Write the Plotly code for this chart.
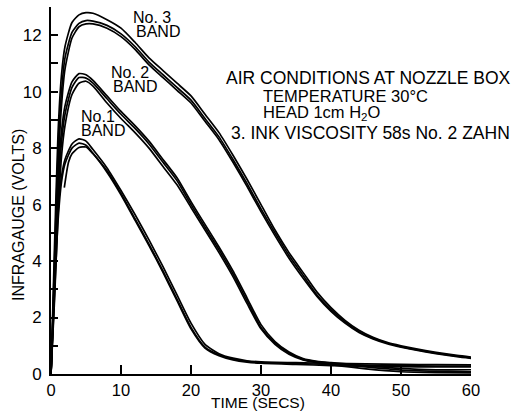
import plotly.graph_objects as go

# Infragauge drying traces, three runs per band
t_band1 = [0, 0.5, 1, 1.5, 2, 3, 4, 5, 6, 8, 10, 12, 14, 16, 18, 20, 22, 24, 26, 28, 30, 35, 40, 45, 50, 55, 60]
band1_a = [0, 3.2, 5.8, 7.0, 7.6, 8.15, 8.33, 8.25, 7.95, 7.3, 6.5, 5.65, 4.75, 3.8, 2.8, 1.8, 1.05, 0.72, 0.56, 0.47, 0.43, 0.4, 0.38, 0.36, 0.34, 0.33, 0.32]
band1_b = [0, 2.8, 5.4, 6.8, 7.45, 8.0, 8.18, 8.1, 7.82, 7.2, 6.4, 5.5, 4.6, 3.65, 2.65, 1.65, 0.95, 0.68, 0.53, 0.45, 0.41, 0.37, 0.34, 0.31, 0.29, 0.28, 0.28]
t_band1_c = [1.9, 2.5, 3, 4, 5, 6, 8, 10, 12, 14, 16, 18, 20, 22, 24, 26, 28, 30, 35, 40, 45, 50, 55, 60]
band1_c = [6.6, 7.5, 7.8, 8.02, 8.04, 7.8, 7.15, 6.35, 5.45, 4.55, 3.6, 2.6, 1.6, 0.92, 0.65, 0.5, 0.42, 0.38, 0.34, 0.3, 0.27, 0.26, 0.25, 0.25]

t_band2 = [0, 0.5, 1, 1.5, 2, 3, 4, 5, 6, 8, 10, 12, 14, 16, 18, 20, 22, 24, 26, 28, 30, 32, 34, 36, 38, 40, 45, 50, 55, 60]
band2_a = [0, 3.5, 6.8, 8.6, 9.5, 10.35, 10.64, 10.6, 10.4, 9.85, 9.3, 8.8, 8.25, 7.6, 6.95, 6.1, 5.3, 4.5, 3.65, 2.7, 1.75, 1.15, 0.78, 0.55, 0.45, 0.4, 0.3, 0.2, 0.15, 0.15]
band2_b = [0, 3.0, 6.2, 8.2, 9.2, 10.15, 10.5, 10.48, 10.3, 9.75, 9.2, 8.7, 8.15, 7.5, 6.85, 6.0, 5.2, 4.4, 3.55, 2.6, 1.65, 1.1, 0.74, 0.52, 0.43, 0.38, 0.25, 0.14, 0.1, 0.08]
band2_c = [0, 2.6, 5.6, 7.7, 8.8, 9.9, 10.3, 10.37, 10.2, 9.6, 9.05, 8.55, 8.0, 7.35, 6.7, 5.9, 5.1, 4.3, 3.45, 2.5, 1.6, 1.05, 0.7, 0.5, 0.4, 0.33, 0.18, 0.08, 0.05, 0.04]

t_band3 = [0, 0.5, 1, 1.5, 2, 3, 4, 5, 6, 8, 10, 12, 14, 16, 18, 20, 22, 24, 26, 28, 30, 32, 34, 36, 38, 40, 42, 44, 46, 48, 50, 52, 55, 58, 60]
band3_a = [0, 4.5, 8.5, 10.6, 11.6, 12.45, 12.72, 12.8, 12.78, 12.55, 12.25, 11.75, 11.2, 10.75, 10.3, 9.85, 9.2, 8.55, 7.75, 6.9, 6.0, 5.1, 4.3, 3.6, 2.9, 2.35, 1.9, 1.55, 1.3, 1.12, 1.0, 0.9, 0.77, 0.66, 0.6]
band3_b = [0, 4.0, 7.8, 10.0, 11.2, 12.1, 12.42, 12.52, 12.5, 12.35, 12.05, 11.6, 11.05, 10.6, 10.15, 9.7, 9.05, 8.4, 7.6, 6.75, 5.85, 5.0, 4.2, 3.5, 2.8, 2.28, 1.85, 1.5, 1.27, 1.1, 0.97, 0.87, 0.74, 0.63, 0.57]
band3_c = [0, 3.5, 7.2, 9.5, 10.8, 11.9, 12.3, 12.4, 12.4, 12.25, 11.95, 11.5, 10.95, 10.5, 10.05, 9.6, 8.95, 8.3, 7.5, 6.65, 5.75, 4.9, 4.1, 3.4, 2.75, 2.22, 1.8, 1.47, 1.24, 1.07, 0.95, 0.85, 0.72, 0.61, 0.55]

x_ticks = [0, 10, 20, 30, 40, 50, 60]
y_ticks = list(range(0, 14))
y_tick_text = [str(v) if v % 2 == 0 and v <= 12 else "" for v in y_ticks]

series = [
    (t_band1, band1_a), (t_band1, band1_b), (t_band1_c, band1_c),
    (t_band2, band2_a), (t_band2, band2_b), (t_band2, band2_c),
    (t_band3, band3_a), (t_band3, band3_b), (t_band3, band3_c),
]

FONT = "Liberation Sans, Arial, sans-serif"

fig = go.Figure()
for t, v in series:
    fig.add_trace(go.Scatter(
        x=t, y=v, mode="lines",
        line=dict(color="black", width=1.7, shape="spline", smoothing=0.6),
        showlegend=False, hoverinfo="skip",
    ))

labels = [
    ("No. 3", 11.6, 12.62), ("BAND", 12.0, 12.15),
    ("No. 2", 8.4, 10.67), ("BAND", 8.7, 10.2),
    ("No.1", 4.1, 9.12), ("BAND", 4.1, 8.62),
]
for text, x, y in labels:
    fig.add_annotation(x=x, y=y, text=text, showarrow=False, xanchor="left",
                       yanchor="middle", borderpad=0,
                       font=dict(size=16, color="black", family=FONT))

notes = [
    ("AIR CONDITIONS AT NOZZLE BOX", 24.86, 10.48, 17.5),
    ("TEMPERATURE 30°C", 30.14, 9.84, 16.5),
    ("HEAD 1cm H<sub>2</sub>O", 30.14, 9.25, 16.5),
    ("3. INK VISCOSITY 58s No. 2 ZAHN", 25.57, 8.55, 17.5),
]
for text, x, y, size in notes:
    fig.add_annotation(x=x, y=y, text=text, showarrow=False, xanchor="left",
                       yanchor="middle", borderpad=0,
                       font=dict(size=size, color="black", family=FONT))

fig.add_annotation(xref="paper", yref="paper", x=-0.079, y=0.433,
                   xanchor="center", yanchor="middle",
                   text="INFRAGAUGE (VOLTS)", textangle=-90, showarrow=False,
                   font=dict(size=16, color="black", family=FONT))
fig.add_annotation(xref="paper", yref="paper", x=0.493, y=-0.077,
                   xanchor="center", yanchor="middle",
                   text="TIME (SECS)", showarrow=False, borderpad=0,
                   font=dict(size=15.5, color="black", family=FONT))

fig.update_xaxes(range=[0, 60], tickvals=x_ticks, ticks="inside", ticklen=9,
                 tickwidth=1.5, tickcolor="black", showline=True, linecolor="black",
                 linewidth=2, showgrid=False, zeroline=False, ticklabelstandoff=0,
                 tickfont=dict(size=16.5, color="black", family=FONT))
fig.update_yaxes(range=[0, 13], tickvals=y_ticks, ticktext=y_tick_text, ticks="inside",
                 ticklen=7, tickwidth=1.5, tickcolor="black", showline=True,
                 linecolor="black", linewidth=2, showgrid=False, zeroline=False,
                 ticklabelstandoff=4,
                 tickfont=dict(size=17, color="black", family=FONT))

fig.update_layout(width=518, height=411, margin=dict(l=51, r=47, t=7, b=37),
                  paper_bgcolor="white", plot_bgcolor="white")

fig.write_html("out.html")
